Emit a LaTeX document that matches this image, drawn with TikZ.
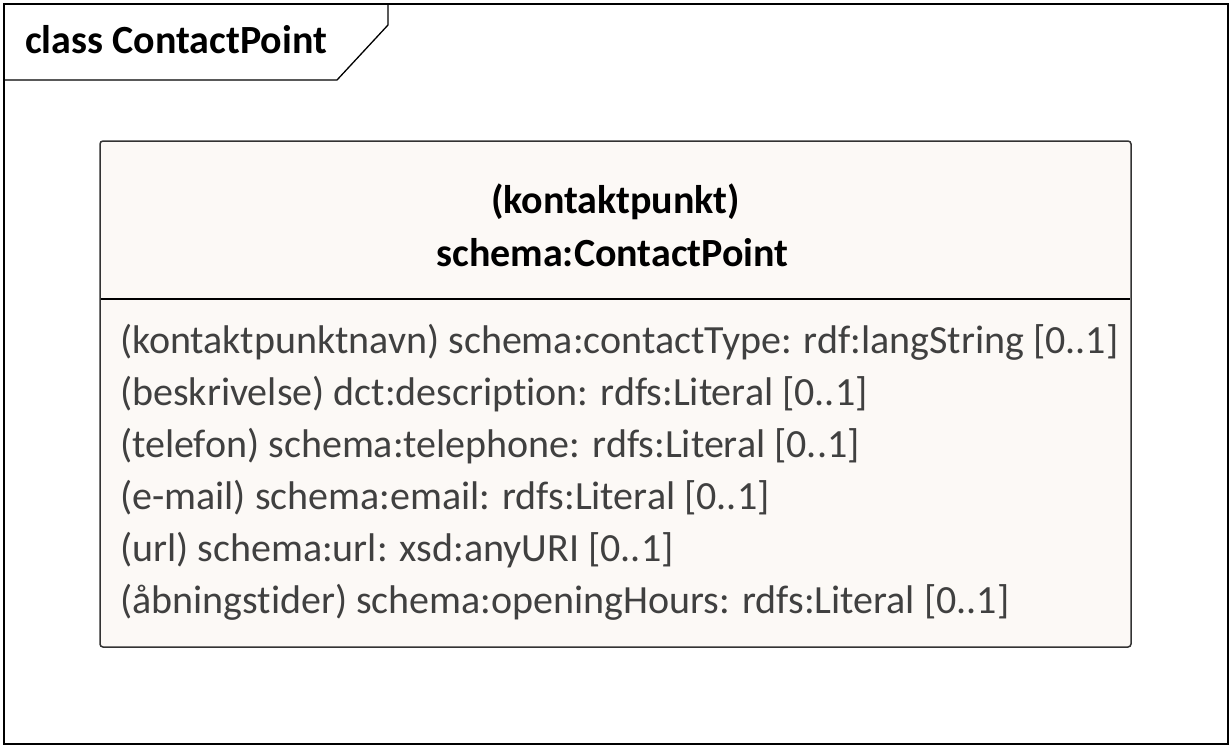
\documentclass[tikz,border=0pt]{standalone}
\usepackage{fontspec}
\setmainfont{Carlito}[Ligatures=NoCommon]
\definecolor{classfill}{HTML}{FCF9F6}
\definecolor{attrtext}{HTML}{404040}
\definecolor{edgegray}{HTML}{333333}
\tikzset{
  umltext/.style={inner sep=0pt, font=\fontsize{40}{48}\selectfont},
  attr/.style={umltext, anchor=base west, text=attrtext},
  title/.style={umltext, anchor=base, font=\fontsize{40}{48}\selectfont\bfseries}
}
\begin{document}
\begin{tikzpicture}[x=1pt, y=-1pt]
\useasboundingbox (0,0) rectangle (1232,748);
% frame and tab
\draw[line width=1.3pt] (4,4) rectangle (1228,744);
\draw[line width=1.3pt] (4,80) -- (337,80) -- (388,25) -- (388,4);
\node[umltext, anchor=base west, font=\fontsize{40}{48}\selectfont\bfseries] (frametitle) at (25,53) {class ContactPoint};
% class box
\filldraw[fill=classfill, draw=edgegray, line width=1.5pt, rounded corners=3pt] (100,141) rectangle (1131,647);
\draw[line width=1.3pt] (101,299) -- (1130,299);
\node[title] (alias) at (615.5,213) {(kontaktpunkt)};
\node[title] (classname) at (612.5,266) {schema:ContactPoint};
% attributes
\node[attr] (a1) at (120,353) {(kontaktpunktnavn) schema:contactType: rdf:langString [0..1]};
\node[attr] (a2) at (120,405) {(beskrivelse) dct:description: rdfs:Literal [0..1]};
\node[attr] (a3) at (120,457) {(telefon) schema:telephone: rdfs:Literal [0..1]};
\node[attr] (a4) at (120,509) {(e-mail) schema:email: rdfs:Literal [0..1]};
\node[attr] (a5) at (120,561) {(url) schema:url: xsd:anyURI [0..1]};
\node[attr] (a6) at (120,613) {(åbningstider) schema:openingHours: rdfs:Literal [0..1]};
\end{tikzpicture}
\end{document}
